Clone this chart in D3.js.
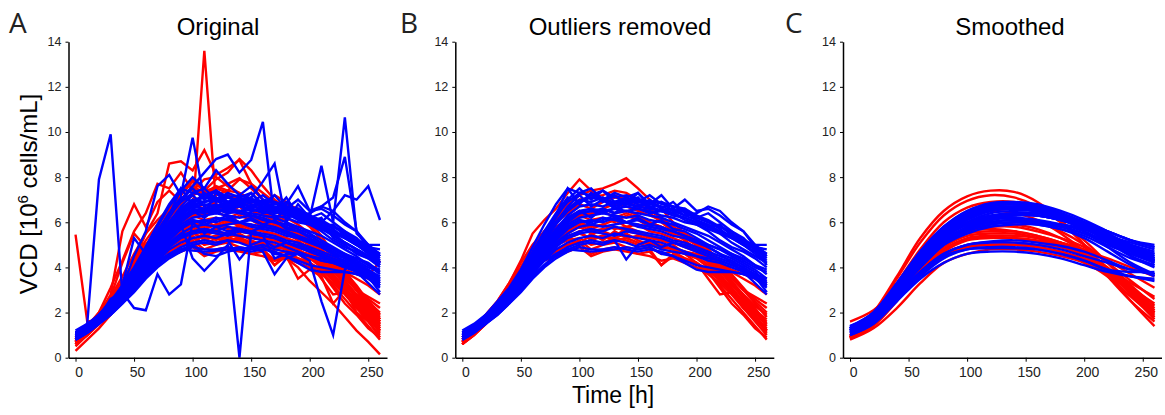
<!DOCTYPE html>
<html>
<head>
<meta charset="utf-8">
<script src="https://cdn.jsdelivr.net/npm/d3@7"></script>
<style>
  body { margin: 0; background: #fff; }
  svg { display: block; }
</style>
</head>
<body>
<svg id="chart" width="1165" height="415"></svg>
<script>
// sampling times (h)
const timeRaw = [0,10,20,30,40,50,60,70,80,90,100,110,120,130,140,150,160,170,180,190,200,210,220,230,240,250,260];
const timeSmooth = [0,20,40,60,80,100,120,140,160,180,200,220,240,260];
const xTicks = [0,50,100,150,200,250];
const yTicks = [0,2,4,6,8,10,12,14];
const panelLetters = ["A","B","C"];
const panelTitles = ["Original","Outliers removed","Smoothed"];

// runs after outlier removal (also part of the original data)
const redCleaned = [
  [0.9,1.4,1.9,2.5,3.3,4.3,5.5,6.1,6.6,7.3,7.9,7.4,7.0,7.2,7.0,6.6,6.4,6.0,5.6,5.3,5.0,4.6,4.1,3.6,3.0,2.4,1.8],
  [0.8,1.3,1.8,2.4,3.2,4.0,4.9,5.6,6.2,6.8,7.2,7.4,7.5,7.7,7.95,7.5,7.0,6.6,6.0,5.5,5.0,4.5,3.9,3.4,2.8,2.2,1.5],
  [0.7,1.2,1.7,2.3,3.0,3.8,4.5,5.2,5.7,6.2,6.5,6.3,6.6,6.4,6.5,6.3,6.0,5.8,5.5,5.2,4.8,4.3,3.7,3.1,2.5,1.9,1.2],
  [0.6,1.1,1.6,2.2,2.9,3.6,4.2,4.6,5.0,5.3,5.6,5.2,5.4,5.3,5.5,5.2,5.0,4.9,4.8,4.6,4.4,4.0,3.5,3.0,2.4,1.8,1.1],
  [0.6,1.0,1.5,2.1,2.8,3.5,4.1,4.4,4.7,5.0,5.1,4.6,4.8,4.9,4.8,4.6,4.7,4.1,4.5,4.3,4.2,3.8,3.2,2.6,2.0,1.4,0.8],
  [0.8,1.3,1.8,2.4,3.1,3.9,4.6,5.1,5.5,5.8,6.0,5.7,5.9,6.1,5.8,5.9,5.6,5.5,5.3,5.1,4.9,4.6,4.2,3.8,3.5,3.2,2.8],
  [0.7,1.2,1.7,2.3,3.0,3.7,4.4,4.8,5.2,5.5,5.8,5.5,5.6,5.4,5.7,5.5,5.3,5.2,5.0,4.6,4.2,3.5,2.8,2.9,2.2,1.8,1.3],
  [0.8,1.3,1.8,2.4,3.2,4.0,4.8,5.4,6.0,6.4,6.8,6.6,6.9,7.1,7.0,6.8,6.5,6.2,5.8,5.4,5.0,4.5,3.9,3.3,2.6,2.0,1.4],
  [0.7,1.1,1.6,2.2,2.9,3.6,4.3,4.7,5.0,5.2,5.3,5.0,5.1,5.3,5.2,5.0,5.1,4.8,4.9,4.7,4.5,4.1,3.6,3.0,2.5,2.0,1.6],
  [0.7,1.2,1.7,2.3,3.1,3.9,4.6,5.2,5.7,6.0,6.3,6.1,6.2,6.0,6.3,6.1,5.8,5.7,5.5,5.3,5.1,4.7,4.2,3.6,3.0,2.6,2.2],
  [0.6,1.1,1.6,2.2,2.9,3.7,4.4,4.9,5.3,5.6,5.9,5.6,5.7,5.8,5.6,5.5,5.4,5.2,5.1,5.0,4.8,4.4,3.9,3.2,2.7,2.1,1.7],
  [0.8,1.2,1.7,2.3,3.0,3.8,4.5,5.1,5.6,6.0,6.3,6.4,6.6,6.8,6.7,6.5,6.3,6.1,5.8,5.5,5.2,4.8,4.3,3.7,3.1,2.5,2.0],
  [0.6,1.0,1.5,2.1,2.8,3.5,4.0,4.3,4.5,4.7,4.9,4.5,4.7,4.8,4.7,4.6,4.5,4.3,4.4,4.2,4.0,3.7,3.3,2.8,2.2,1.6,1.0],
  [0.9,1.4,1.9,2.5,3.3,4.2,5.0,5.6,6.1,6.6,7.0,7.1,7.2,7.4,7.3,7.0,6.6,6.2,5.7,5.2,4.7,4.2,3.6,3.0,2.4,1.8,1.2],
  [0.7,1.2,1.7,2.3,3.0,3.8,4.5,5.0,5.4,5.7,6.0,5.8,5.9,5.7,5.8,5.6,5.4,5.3,5.1,4.9,4.7,4.5,4.2,3.9,3.7,3.5,3.3],
  [0.6,1.1,1.6,2.2,2.9,3.6,4.3,4.7,5.1,5.3,5.5,5.3,5.4,5.2,5.3,5.1,4.8,4.1,4.6,4.4,4.2,3.9,3.4,2.9,2.3,1.7,1.2],
  [0.7,1.2,1.8,2.4,3.1,3.9,4.7,5.3,5.8,6.1,6.4,6.3,6.5,6.2,6.4,6.2,6.0,5.8,5.6,5.4,5.1,4.6,4.0,3.5,3.0,2.7,2.4],
  [0.6,1.0,1.5,2.1,2.8,3.5,4.1,4.5,4.8,5.0,5.2,4.8,5.0,5.1,4.9,4.8,4.9,4.6,4.7,4.4,4.2,3.8,3.1,2.4,1.9,1.3,0.9],
  [0.7,1.1,1.6,2.2,3.0,3.8,4.4,4.7,5.1,5.4,5.0,5.5,5.2,5.6,5.3,5.4,5.2,5.0,4.8,4.7,4.6,4.3,3.8,3.3,2.8,2.3,1.9]
];
const blueCleaned = [
  [1.1,1.4,1.8,2.3,2.9,3.6,4.4,5.3,6.2,7.0,7.5,7.0,7.4,6.9,7.1,7.3,6.8,7.2,6.6,7.0,6.5,6.6,6.3,5.9,5.6,5.0,4.6],
  [1.0,1.3,1.7,2.2,2.8,3.5,4.3,5.1,5.9,6.5,6.9,7.1,7.0,6.9,7.0,6.8,6.7,6.5,6.4,6.2,6.0,5.8,5.5,5.1,4.8,4.5,4.2],
  [0.9,1.3,1.7,2.1,2.7,3.3,4.0,4.8,5.5,6.0,6.4,6.5,6.6,6.4,6.5,6.4,6.3,6.2,6.0,5.8,5.6,5.4,5.1,4.8,4.5,4.1,3.7],
  [0.9,1.2,1.6,2.0,2.6,3.2,3.9,4.6,5.2,5.7,6.0,6.1,6.0,6.2,6.0,5.9,5.8,5.7,5.6,5.4,5.2,5.0,4.8,4.5,4.2,3.9,3.5],
  [0.8,1.1,1.5,1.9,2.4,2.9,3.5,4.0,4.4,4.7,4.9,4.8,4.8,4.9,4.8,4.7,4.8,4.7,4.5,4.2,3.9,3.8,3.8,3.8,3.7,3.6,2.9],
  [0.8,1.2,1.6,2.0,2.5,3.0,3.6,4.1,4.6,4.9,5.1,5.2,5.1,5.2,4.35,5.0,5.2,5.1,4.9,4.7,4.5,4.4,4.3,4.1,3.9,3.6,3.3],
  [1.1,1.4,1.8,2.3,2.9,3.5,4.2,5.0,5.7,6.3,6.7,6.8,6.7,6.9,6.8,6.7,6.6,6.5,6.3,6.2,6.0,5.8,5.6,5.4,5.2,5.0,5.0],
  [1.0,1.3,1.7,2.2,2.7,3.4,4.1,4.8,5.4,5.9,6.2,6.3,6.4,6.3,6.2,6.3,6.1,6.0,5.9,5.7,5.5,5.2,4.9,4.6,4.3,4.0,3.8],
  [0.9,1.2,1.6,2.1,2.6,3.1,3.8,4.4,4.9,5.3,5.5,5.6,5.5,5.4,5.6,5.5,5.4,5.3,5.1,5.0,4.8,4.6,4.4,4.2,4.0,3.7,3.4],
  [1.0,1.3,1.8,2.3,2.9,3.7,4.6,5.5,6.3,7.5,6.8,7.3,6.9,7.2,6.8,7.0,6.9,6.6,6.9,6.4,6.2,6.0,5.7,5.3,5.0,4.7,4.3],
  [1.0,1.3,1.7,2.2,2.8,3.4,4.1,4.9,5.6,6.1,6.4,6.5,6.4,6.6,6.5,6.6,6.4,6.5,6.6,6.3,6.4,6.7,6.5,6.0,5.6,4.9,4.5],
  [0.9,1.2,1.6,2.0,2.6,3.2,3.9,4.5,5.1,5.5,5.8,5.9,5.8,5.9,6.0,5.8,5.7,5.6,5.4,5.3,5.1,4.9,4.6,4.4,4.1,3.8,3.3],
  [0.9,1.2,1.6,2.1,2.7,3.3,4.0,4.7,5.3,5.8,6.1,6.0,6.2,6.1,6.0,6.1,5.9,5.8,5.6,5.4,5.2,4.9,4.6,4.2,3.8,3.3,2.8],
  [0.8,1.1,1.5,1.9,2.4,3.0,3.6,4.1,4.5,4.8,5.0,5.1,5.0,5.2,5.1,4.9,5.0,4.8,4.7,4.6,4.5,4.3,4.2,4.0,3.8,3.6,3.2],
  [1.1,1.4,1.8,2.3,2.9,3.6,4.4,5.2,6.0,6.6,7.0,6.9,7.1,6.8,7.0,6.9,6.8,6.7,6.5,6.3,6.1,5.9,5.6,5.3,5.0,4.6,4.2],
  [1.0,1.3,1.7,2.2,2.8,3.5,4.2,5.0,5.7,6.2,6.5,6.2,6.6,6.4,6.8,7.3,6.7,6.5,6.4,6.1,5.9,5.6,5.2,4.9,4.7,4.4,4.0],
  [0.9,1.2,1.6,2.1,2.6,3.2,3.9,4.5,5.0,5.4,5.6,5.7,5.6,5.8,5.7,5.6,5.5,5.4,5.2,5.1,4.9,4.7,4.5,4.3,4.0,3.6,3.2],
  [1.0,1.3,1.7,2.2,2.8,3.4,4.1,4.9,5.6,6.1,6.5,6.6,6.5,6.6,6.7,6.6,6.5,6.3,6.2,6.0,5.9,5.7,5.5,5.3,5.1,4.9,4.8],
  [0.9,1.2,1.6,2.1,2.7,3.3,4.1,4.8,5.4,5.8,6.1,5.9,6.1,6.3,6.0,6.2,5.9,6.1,5.7,5.6,5.3,5.0,4.8,4.6,4.4,4.1,3.9],
  [0.8,1.1,1.5,2.0,2.5,3.1,3.7,4.3,4.8,5.1,5.3,5.4,5.3,5.5,5.4,5.3,5.2,4.9,5.1,4.9,4.7,4.5,4.3,4.1,3.9,3.7,3.5],
  [1.2,1.5,1.9,2.5,3.1,3.9,4.9,5.9,6.8,7.5,7.3,7.5,7.0,7.3,7.1,6.9,7.2,6.8,6.7,6.6,6.3,6.1,5.8,5.5,5.1,4.8,4.4],
  [1.0,1.3,1.7,2.2,2.8,3.6,4.5,5.4,6.3,6.9,7.3,7.2,7.4,7.1,7.2,7.0,6.9,6.9,6.7,6.5,6.3,6.0,5.8,5.6,5.2,4.9,4.5],
  [1.1,1.4,1.9,2.4,3.0,3.8,4.7,5.6,6.4,7.1,6.9,7.2,7.0,6.7,6.9,7.1,6.6,6.9,6.5,6.6,6.2,6.4,6.0,5.6,5.3,4.8,4.1],
  [0.9,1.2,1.6,2.1,2.6,3.2,3.8,4.3,4.6,4.8,4.75,4.7,4.75,4.8,4.9,4.8,4.9,4.6,4.5,4.3,4.1,4.0,3.9,3.8,3.7,3.5,3.1],
  [1.0,1.3,1.7,2.2,2.8,3.5,4.3,5.2,6.0,6.7,7.2,6.7,7.0,6.6,6.9,6.7,7.0,6.6,6.4,6.5,6.1,5.8,5.9,5.4,5.0,4.9,4.6]
];

// runs that carry outlier points (only in the original data)
const redOutliers = [
  [5.45,1.6,1.7,2.3,3.0,3.8,4.6,5.1,5.5,5.8,6.0,5.7,5.9,5.8,5.6,5.5,5.3,5.2,5.0,4.8,4.5,4.1,3.6,3.1,2.5,1.9,1.4],
  [0.7,1.2,1.7,2.4,3.2,4.0,4.8,5.4,5.8,6.2,6.4,13.6,6.8,6.6,6.5,6.3,6.1,5.9,5.6,5.3,5.0,4.6,4.0,3.4,2.8,2.2,1.6],
  [0.8,1.3,1.9,2.8,5.6,6.8,5.8,6.9,7.4,6.9,7.6,7.2,7.5,7.3,7.0,6.8,6.5,6.3,6.0,5.7,5.3,4.8,4.2,3.6,3.0,2.4,1.7],
  [0.9,1.4,2.0,2.7,3.6,4.6,5.5,6.4,8.6,8.7,8.3,9.2,8.1,8.4,8.76,7.7,7.0,6.6,6.2,5.9,5.5,5.0,4.4,3.7,3.0,2.3,1.6],
  [0.7,1.3,2.0,3.1,4.3,5.6,6.4,7.7,7.5,8.2,7.4,7.9,8.0,7.6,7.3,7.0,6.8,7.2,6.9,6.5,5.9,5.2,4.5,3.8,3.0,2.2,1.3],
  [0.5,1.0,1.5,2.1,2.8,3.6,4.3,4.8,5.2,5.5,5.7,5.4,5.6,5.5,5.3,5.1,5.0,4.7,4.4,4.0,3.4,2.9,2.4,1.8,1.2,0.7,0.15],
  [0.3,0.8,1.3,1.9,2.6,3.3,4.0,4.5,4.9,5.2,5.4,5.0,5.3,5.1,5.2,4.9,4.8,4.3,4.5,3.5,3.9,3.6,2.4,3.0,2.0,1.6,0.9],
  [0.6,1.1,1.8,2.7,4.2,5.5,4.9,5.9,6.7,6.3,6.9,6.5,6.8,6.4,6.7,6.2,6.5,6.0,5.7,5.5,5.2,4.8,4.3,3.8,3.2,2.5,1.9],
  [0.7,1.2,1.7,2.3,3.0,3.8,4.5,5.0,5.4,5.7,5.9,6.1,5.8,6.0,5.9,5.7,5.6,5.4,5.3,5.1,4.9,4.7,4.5,4.2,3.8,3.6,4.3],
  [0.8,1.3,1.9,2.6,3.4,4.3,5.2,5.9,6.5,7.2,7.8,7.4,7.9,8.2,8.8,8.3,7.6,7.0,6.6,6.2,5.8,5.2,4.5,3.8,3.1,2.4,1.7],
  [0.8,1.3,1.8,2.5,3.3,4.2,5.0,5.7,6.4,7.0,7.6,7.3,7.6,7.4,7.9,7.7,7.3,6.9,6.8,6.6,6.0,5.4,4.6,3.9,3.1,2.3,1.5]
];
const blueOutliers = [
  [1.0,1.5,7.9,9.9,2.8,3.6,4.4,5.1,5.7,6.2,6.5,6.4,6.6,6.5,6.4,6.3,6.2,6.0,5.8,5.6,5.4,5.1,4.8,4.5,4.2,3.9,3.6],
  [0.9,1.3,1.8,2.6,2.9,2.2,2.1,3.7,2.8,3.25,6.0,5.5,5.8,5.6,5.7,5.5,5.4,5.3,5.1,4.9,4.7,4.5,4.3,4.1,3.9,3.6,3.4],
  [1.1,1.4,1.8,2.4,3.1,4.5,5.6,7.6,8.1,7.2,9.75,7.0,7.4,7.1,6.9,7.0,6.8,6.6,6.4,6.2,6.0,5.7,5.4,5.1,4.8,4.5,4.2],
  [0.9,1.2,1.6,2.1,2.7,3.4,4.1,4.8,5.4,5.9,4.4,3.85,4.4,5.0,0.0,5.6,5.8,5.7,5.5,5.3,5.1,4.9,4.7,4.4,4.1,3.8,3.5],
  [1.0,1.4,1.8,2.4,3.1,3.9,4.8,5.6,6.4,7.0,7.6,8.2,8.8,9.0,8.2,8.76,10.45,6.1,6.6,6.4,6.2,5.9,5.6,5.3,5.0,4.7,4.3],
  [1.0,1.3,1.7,2.2,2.8,3.5,4.3,5.1,5.8,6.4,6.8,6.9,7.0,7.1,6.9,7.1,7.8,8.6,6.0,6.8,6.2,8.5,6.0,10.65,5.5,5.0,4.5],
  [0.9,1.2,1.6,2.1,2.6,3.2,3.9,4.5,5.0,5.4,5.6,5.7,5.6,5.5,5.7,5.5,5.4,4.4,4.6,4.6,4.3,2.5,1.0,3.9,4.4,4.2,3.8],
  [1.1,1.4,1.8,2.3,2.9,3.6,4.4,5.2,5.9,6.4,6.7,6.6,6.8,6.6,6.7,6.5,6.6,6.4,6.5,6.3,6.2,6.0,6.5,7.2,7.0,7.6,6.1],
  [1.0,1.3,1.7,2.2,2.8,3.5,4.2,5.0,5.7,6.2,6.6,6.5,6.7,6.6,6.8,6.5,6.6,6.4,6.8,7.6,6.5,6.7,7.1,8.9,5.6,4.8,4.2],
  [0.8,1.1,1.5,2.0,2.5,3.1,3.7,4.2,4.5,4.7,5.0,4.6,4.5,4.7,4.8,4.9,4.7,3.7,4.4,4.6,4.5,4.3,4.2,4.0,3.9,3.7,3.4],
  [1.0,1.3,1.8,2.4,3.2,5.3,4.6,5.2,5.9,6.5,7.0,6.4,7.3,6.8,7.0,6.6,6.9,6.5,7.1,6.3,6.0,6.2,5.3,5.0,4.6,4.4,4.1],
  [1.0,1.4,1.9,2.5,3.2,4.0,4.9,5.8,6.7,7.4,8.0,7.5,8.3,7.7,7.2,7.6,7.0,6.9,6.7,6.5,6.2,5.8,5.4,5.1,4.8,4.5,4.2]
];

// smoothed runs, sampled every 20 h
const redSmoothed = [
  [0.9,2.0,3.6,5.3,6.5,7.15,7.4,7.35,6.9,6.1,5.0,3.8,2.5,1.4],
  [0.95,1.9,3.5,5.1,6.3,6.95,7.2,7.1,6.7,6.0,5.0,3.9,2.8,1.7],
  [0.9,1.8,3.3,4.8,6.0,6.65,6.9,6.9,6.6,6.0,5.2,4.2,3.1,2.0],
  [0.9,1.5,2.8,4.1,5.0,5.5,5.6,5.6,5.4,5.1,4.7,4.0,3.1,2.2],
  [0.85,1.5,2.7,3.9,4.7,5.2,5.3,5.3,5.2,5.0,4.6,3.9,3.0,2.0],
  [0.85,1.4,2.5,3.7,4.5,4.9,5.0,5.0,4.9,4.7,4.3,3.7,2.9,2.1],
  [0.8,1.3,2.2,3.3,4.2,4.6,4.8,4.8,4.7,4.5,4.2,3.6,2.7,1.8],
  [1.0,1.6,2.9,4.3,5.2,5.7,5.8,5.8,5.6,5.3,4.9,4.2,3.4,2.6],
  [0.95,1.7,3.1,4.5,5.5,6.0,6.2,6.2,6.0,5.6,5.0,4.2,3.2,2.3],
  [0.9,1.7,3.1,4.6,5.7,6.3,6.5,6.4,6.1,5.5,4.7,3.6,2.5,1.6],
  [1.0,1.5,2.6,3.8,4.6,5.0,5.1,5.1,5.0,4.9,4.7,4.4,4.0,3.6],
  [1.0,1.6,2.8,4.0,4.8,5.3,5.4,5.4,5.3,5.1,4.8,4.3,3.7,3.1],
  [0.85,1.6,2.9,4.3,5.3,5.9,6.0,5.9,5.7,5.3,4.7,3.8,2.8,1.8],
  [0.9,1.5,2.6,3.7,4.5,4.9,5.0,5.0,4.9,4.7,4.4,3.9,3.3,2.7],
  [1.1,1.6,2.8,4.0,4.9,5.4,5.5,5.5,5.3,5.0,4.6,3.9,3.1,2.4],
  [1.6,2.1,3.1,4.3,5.2,5.6,5.7,5.6,5.4,5.1,4.6,3.9,3.0,2.1],
  [0.9,1.5,2.7,3.9,4.8,5.25,5.35,5.3,5.15,4.9,4.5,3.8,2.9,1.9]
];
const blueSmoothed = [
  [1.3,2.0,3.3,4.7,5.8,6.5,6.85,6.9,6.8,6.5,6.1,5.6,5.2,4.9],
  [1.4,2.0,3.2,4.5,5.6,6.3,6.7,6.8,6.7,6.4,6.0,5.6,5.2,5.0],
  [1.2,1.8,3.0,4.3,5.4,6.1,6.5,6.6,6.5,6.3,5.9,5.3,4.8,4.4],
  [1.3,1.9,3.1,4.4,5.5,6.2,6.6,6.7,6.6,6.3,5.9,5.4,4.9,4.6],
  [1.1,1.7,2.8,4.0,5.0,5.7,6.1,6.3,6.3,6.1,5.8,5.3,4.8,4.3],
  [1.2,1.8,2.9,4.1,5.1,5.8,6.2,6.4,6.4,6.2,5.9,5.4,4.8,4.2],
  [1.0,1.5,2.5,3.5,4.2,4.6,4.7,4.7,4.6,4.4,4.1,3.8,3.6,3.5],
  [1.1,1.6,2.6,3.6,4.4,4.8,4.9,4.9,4.8,4.6,4.3,3.9,3.6,3.4],
  [1.1,1.6,2.7,3.8,4.6,5.0,5.15,5.2,5.1,4.95,4.7,4.3,3.9,3.7],
  [1.2,1.8,2.9,4.1,5.1,5.7,6.0,6.1,6.0,5.8,5.5,5.1,4.7,4.3],
  [1.2,1.8,2.9,4.1,5.1,5.7,6.0,6.1,6.0,5.8,5.5,5.0,4.6,4.2],
  [1.3,1.9,3.1,4.5,5.6,6.3,6.6,6.7,6.6,6.3,5.8,5.1,4.5,4.1],
  [1.3,2.0,3.3,4.7,5.8,6.5,6.8,6.8,6.6,6.2,5.6,4.9,4.2,3.7],
  [1.0,1.5,2.6,3.7,4.5,4.8,4.85,4.85,4.8,4.6,4.3,3.9,3.8,3.8],
  [1.4,1.9,3.0,4.2,5.1,5.6,5.9,6.0,6.0,5.9,5.7,5.3,5.0,4.7],
  [1.2,1.8,3.0,4.3,5.4,6.0,6.4,6.5,6.5,6.3,6.0,5.5,4.9,4.4],
  [1.25,1.9,3.2,4.6,5.7,6.4,6.7,6.8,6.7,6.4,5.9,5.2,4.5,4.0],
  [1.1,1.6,2.7,3.8,4.6,5.0,5.1,5.1,5.0,4.8,4.5,4.2,3.9,3.7],
  [1.3,1.9,3.0,4.3,5.3,5.9,6.2,6.3,6.3,6.1,5.8,5.3,4.9,4.5],
  [1.1,1.7,2.9,4.1,5.0,5.5,5.8,5.9,5.9,5.7,5.3,4.7,4.1,3.6],
  [1.2,1.8,3.0,4.3,5.3,6.0,6.3,6.4,6.3,6.1,5.7,5.2,4.7,4.3],
  [1.3,1.9,3.1,4.4,5.5,6.1,6.5,6.6,6.5,6.2,5.8,5.3,4.8,4.5],
  [1.15,1.7,2.8,4.0,5.0,5.6,5.9,6.0,5.9,5.7,5.4,4.9,4.4,4.1],
  [1.3,1.9,3.1,4.5,5.6,6.3,6.6,6.6,6.5,6.2,5.8,5.4,5.1,4.8],
  [1.2,1.8,2.9,4.2,5.2,5.8,6.1,6.2,6.1,5.9,5.6,5.1,4.6,4.3],
  [1.35,2.0,3.2,4.6,5.7,6.4,6.75,6.85,6.7,6.4,6.0,5.5,5.0,4.6],
  [1.25,1.9,3.1,4.4,5.5,6.2,6.55,6.65,6.6,6.35,6.0,5.6,5.2,4.9],
  [1.2,1.8,3.0,4.3,5.3,5.9,6.25,6.35,6.3,6.1,5.75,5.25,4.75,4.4]
];

const panels = [
  { red: redCleaned.concat(redOutliers), blue: blueCleaned.concat(blueOutliers), times: timeRaw, curve: d3.curveLinear },
  { red: redCleaned, blue: blueCleaned, times: timeRaw, curve: d3.curveLinear },
  { red: redSmoothed, blue: blueSmoothed, times: timeSmooth, curve: d3.curveCatmullRom }
];

const svg = d3.select("#chart");
const axisFont = "'Liberation Sans', Arial, sans-serif";
const panelLeft = [68.5, 455.3, 843];   // x of y-axis in each panel
const plotW = 318.5;
const plotTop = 41.7, plotBottom = 357.7;

const yScale = d3.scaleLinear().domain([0, 14]).range([plotBottom, plotTop]);

panels.forEach((p, k) => {
  const left = panelLeft[k];
  const xScale = d3.scaleLinear().domain([-6, 266]).range([left, left + plotW]);
  const g = svg.append("g");

  const line = d3.line()
    .x((d, i) => xScale(p.times[i]))
    .y(d => yScale(d))
    .curve(p.curve);

  g.selectAll(".red").data(p.red).enter().append("path")
    .attr("d", line)
    .attr("fill", "none")
    .attr("stroke", "#ff0000")
    .attr("stroke-width", 2.4);

  g.selectAll(".blue").data(p.blue).enter().append("path")
    .attr("d", line)
    .attr("fill", "none")
    .attr("stroke", "#0000ff")
    .attr("stroke-width", 2.4);

  // axes
  const xAxis = g.append("g")
    .attr("transform", `translate(0,${plotBottom})`)
    .call(d3.axisBottom(xScale).tickValues(xTicks).tickSize(4).tickSizeOuter(0).tickPadding(5));
  xAxis.selectAll("text").attr("dx", 3).style("font-size", "14px").style("font-family", axisFont).attr("fill", "#222");

  const yAxis = g.append("g")
    .attr("transform", `translate(${left},0)`)
    .call(d3.axisLeft(yScale).tickValues(yTicks).tickSize(3).tickSizeOuter(0).tickPadding(4));
  yAxis.selectAll("text").style("font-size", "12.5px").style("font-family", axisFont).attr("fill", "#222");

  [xAxis, yAxis].forEach(a => {
    a.select(".domain").attr("stroke", "#000").attr("stroke-width", 1.5);
    a.selectAll(".tick line").attr("stroke", "#000").attr("stroke-width", 1);
  });

  // title + panel letter
  svg.append("text")
    .attr("x", [218, 620, 1010][k])
    .attr("y", 35)
    .attr("text-anchor", "middle")
    .style("font-family", axisFont)
    .style("font-size", "24px")
    .text(panelTitles[k]);

  svg.append("text")
    .attr("x", [9, 400, 785][k])
    .attr("y", 33)
    .style("font-family", "'Open Sans', sans-serif")
    .style("font-size", "28px")
    .attr("fill", "#222")
    .text(panelLetters[k]);
});

// axis labels
const yLabel = svg.append("text")
  .attr("transform", "translate(37,194) rotate(-90)")
  .attr("text-anchor", "middle")
  .style("font-family", axisFont)
  .style("font-size", "24px");
yLabel.append("tspan").text("VCD [10");
yLabel.append("tspan").attr("dy", -9).style("font-size", "15px").text("6");
yLabel.append("tspan").attr("dy", 9).text(" cells/mL]");

svg.append("text")
  .attr("x", 613)
  .attr("y", 403)
  .attr("text-anchor", "middle")
  .style("font-family", axisFont)
  .style("font-size", "23px")
  .text("Time [h]");
</script>
</body>
</html>
